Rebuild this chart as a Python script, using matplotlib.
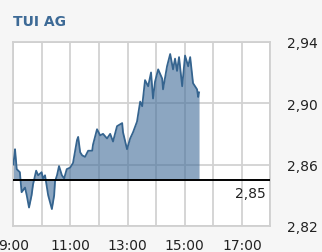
import matplotlib
matplotlib.use("Agg")
import matplotlib.pyplot as plt

# intraday quotes, time in decimal hours
hours = [9.00, 9.04, 9.06, 9.12, 9.23, 9.29, 9.41, 9.47, 9.55, 9.64, 9.69, 9.80, 9.87,
         9.99, 10.04, 10.11, 10.22, 10.35, 10.43, 10.46, 10.53, 10.60, 10.70, 10.78,
         10.87, 10.99, 11.09, 11.23, 11.27, 11.34, 11.41, 11.51, 11.62, 11.76, 11.79,
         11.93, 12.04, 12.14, 12.28, 12.39, 12.49, 12.63, 12.81, 12.84, 12.98, 13.09,
         13.19, 13.33, 13.44, 13.51, 13.61, 13.72, 13.82, 13.89, 13.96, 14.07, 14.21,
         14.24, 14.38, 14.49, 14.59, 14.66, 14.73, 14.80, 14.91, 15.01, 15.12, 15.19,
         15.29, 15.43, 15.47, 15.50]
prices = [2.860, 2.866, 2.870, 2.857, 2.855, 2.842, 2.845, 2.840, 2.832, 2.840, 2.847,
          2.856, 2.853, 2.855, 2.851, 2.853, 2.840, 2.831, 2.840, 2.849, 2.853, 2.859,
          2.853, 2.851, 2.857, 2.858, 2.861, 2.876, 2.878, 2.868, 2.866, 2.865, 2.869,
          2.869, 2.873, 2.883, 2.879, 2.880, 2.877, 2.880, 2.875, 2.885, 2.887, 2.881,
          2.870, 2.877, 2.881, 2.888, 2.901, 2.898, 2.915, 2.911, 2.920, 2.903, 2.914,
          2.922, 2.916, 2.909, 2.924, 2.932, 2.922, 2.929, 2.921, 2.930, 2.911, 2.931,
          2.924, 2.930, 2.913, 2.909, 2.904, 2.907]
prev_close = 2.85

x_ticks = [9, 11, 13, 15, 17]
x_labels = ["9:00", "11:00", "13:00", "15:00", "17:00"]
hour_grid = [9, 10, 11, 12, 13, 14, 15, 16, 17, 18]
y_ticks = [2.82, 2.86, 2.90, 2.94]
y_labels = ["2,82", "2,86", "2,90", "2,94"]

fig = plt.figure(figsize=(3.22, 2.53), dpi=100, facecolor="#f6f6f6")
ax = fig.add_axes([0.0413, 0.103, 0.7987, 0.728])
ax.set_facecolor("white")

# hourly / price grid
ax.vlines(hour_grid, 2.82, 2.94, color="#d2d2d2", linewidth=1.3, zorder=1)
ax.hlines(y_ticks, 9, 18, color="#d2d2d2", linewidth=1.3, zorder=1)

ax.fill_between(hours, prices, prev_close, color="#45709b", alpha=0.62, linewidth=0, zorder=2)
ax.plot(hours, prices, color="#35648f", linewidth=1.3, zorder=3)
ax.axhline(prev_close, color="black", linewidth=1.4, zorder=4)
ax.text(17.85, prev_close - 0.004, "2,85", ha="right", va="top", fontsize=10, color="#222222")

ax.set_xlim(9, 18)
ax.set_ylim(2.82, 2.94)
ax.set_xticks(x_ticks)
ax.set_xticklabels(x_labels)
ax.set_yticks(y_ticks)
ax.set_yticklabels(y_labels)
ax.yaxis.tick_right()
ax.tick_params(which="both", length=0, labelsize=10, colors="#222222")
ax.tick_params(axis="y", pad=12)
ax.tick_params(axis="x", pad=9)
for s in ax.spines.values():
    s.set_color("#d0d0d0")
    s.set_linewidth(1.3)

fig.text(13 / 322, 1 - 22 / 253, "TUI AG", fontsize=10, fontweight="bold",
         color="#3d6a96", ha="left", va="center")

fig.savefig("out.png", dpi=100, facecolor=fig.get_facecolor())
